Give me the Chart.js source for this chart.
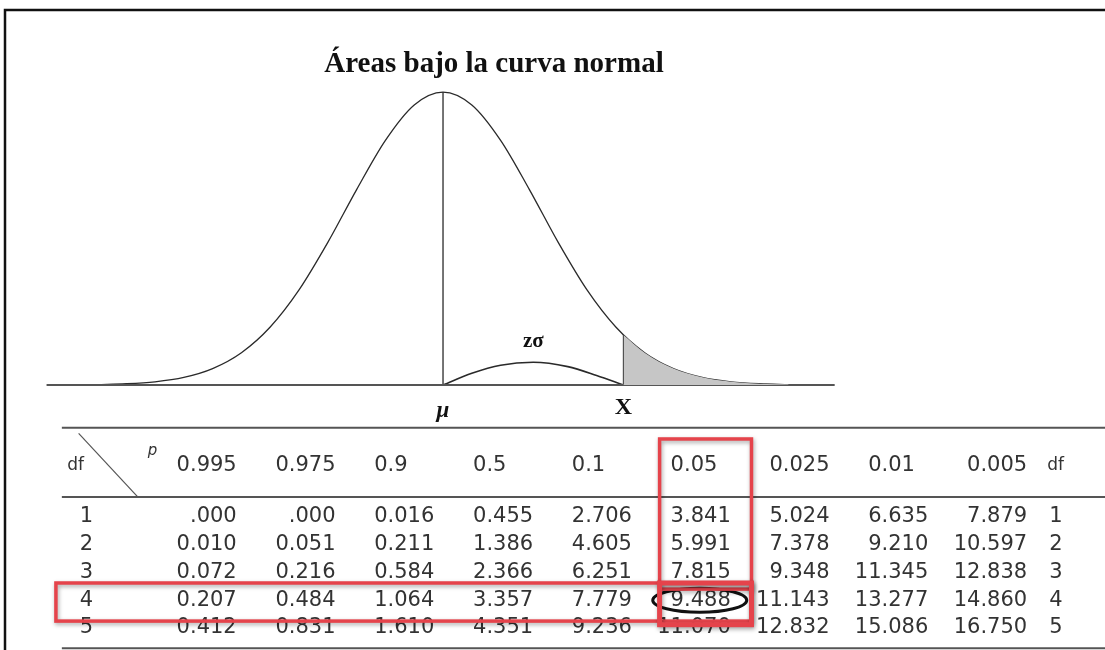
<!DOCTYPE html>
<html>
<head>
<meta charset="utf-8">
<script src="https://cdn.jsdelivr.net/npm/chart.js@4"></script>
<style>
  html, body { margin: 0; padding: 0; background: #fff; }
  #wrap { width: 1105px; height: 650px; position: relative; }
</style>
</head>
<body>
<div id="wrap"><canvas id="chart"></canvas></div>
<script>
// ---- data ----
const title = 'Áreas bajo la curva normal';

// normal curve (z units, density)
const curveZ = [-3.6,-3.3,-3.0,-2.7,-2.4,-2.1,-1.8,-1.5,-1.2,-0.9,-0.6,-0.3,0,0.3,0.6,0.9,1.2,1.5,1.8,2.1,2.4,2.7,3.0,3.3,3.6];
const curveY = [0.0006,0.0017,0.0044,0.0104,0.0224,0.0440,0.0790,0.1295,0.1942,0.2661,0.3332,0.3814,0.3989,0.3814,0.3332,0.2661,0.1942,0.1295,0.0790,0.0440,0.0224,0.0104,0.0044,0.0017,0.0006];

// shaded upper tail beyond X
const tailZ = [1.88,2.1,2.4,2.7,3.0,3.3,3.6];
const tailY = [0.068,0.0440,0.0224,0.0104,0.0044,0.0017,0.0006];

// small z-sigma arc between mu and X
const arcZ = [0,0.3,0.6,0.94,1.3,1.6,1.88];
const arcY = [0,0.016,0.027,0.031,0.025,0.013,0];

const muZ = 0, xZ = 1.88, peakY = 0.3989, xY = 0.068;
const baseZ = [-4.13, 4.08];

// chi-square table
const pLabels = ['0.995','0.975','0.9','0.5','0.1','0.05','0.025','0.01','0.005'];
const dfRows = [1,2,3,4,5];
const df1 = ['.000','.000','0.016','0.455','2.706','3.841','5.024','6.635','7.879'];
const df2 = ['0.010','0.051','0.211','1.386','4.605','5.991','7.378','9.210','10.597'];
const df3 = ['0.072','0.216','0.584','2.366','6.251','7.815','9.348','11.345','12.838'];
const df4 = ['0.207','0.484','1.064','3.357','7.779','9.488','11.143','13.277','14.860'];
const df5 = ['0.412','0.831','1.610','4.351','9.236','11.070','12.832','15.086','16.750'];
const tableRows = [df1, df2, df3, df4, df5];
const markCol = 6, markRow = 4;

const pts = (xs, ys) => xs.map((x, i) => ({x, y: ys[i]}));

const tablePlugin = {
  id: 'tablePlugin',
  afterDraw(chart) {
    const ctx = chart.ctx;
    const sx = chart.scales.x;
    const tc = chart.scales.tc, tr = chart.scales.tr;
    const W = chart.width;
    ctx.save();

    // frame
    ctx.strokeStyle = '#111';
    ctx.lineWidth = 2.5;
    ctx.beginPath();
    ctx.moveTo(5, 651); ctx.lineTo(5, 10); ctx.lineTo(W + 2, 10);
    ctx.stroke();

    // title
    ctx.fillStyle = '#111';
    ctx.font = 'bold 29px "Liberation Serif", serif';
    ctx.textAlign = 'center';
    ctx.textBaseline = 'alphabetic';
    ctx.fillText(title, 494, 72);

    // curve labels
    ctx.font = 'bold italic 23px "Liberation Serif", serif';
    ctx.fillText('\u03bc', sx.getPixelForValue(muZ), 417);
    ctx.font = 'bold 24px "Liberation Serif", serif';
    ctx.fillText('X', sx.getPixelForValue(xZ), 414);
    ctx.font = 'bold 21px "Liberation Serif", serif';
    ctx.fillText('z\u03c3', sx.getPixelForValue(0.94), 347);

    // table rules
    const tl = tc.getPixelForValue(-0.77);
    ctx.strokeStyle = '#555';
    ctx.lineWidth = 2;
    [-2.2, 0.29, 5.73].forEach(r => {
      const y = tr.getPixelForValue(r);
      ctx.beginPath(); ctx.moveTo(tl, y); ctx.lineTo(W, y); ctx.stroke();
    });
    ctx.lineWidth = 1.2;
    ctx.beginPath();
    ctx.moveTo(tc.getPixelForValue(-0.6), tr.getPixelForValue(-2.0));
    ctx.lineTo(tc.getPixelForValue(0.0), tr.getPixelForValue(0.29));
    ctx.stroke();

    // header
    const num = '21px "DejaVu Sans", sans-serif';
    ctx.fillStyle = '#333';
    ctx.font = num;
    ctx.textBaseline = 'middle';
    const hy = tr.getPixelForValue(-0.86);
    const w0 = ctx.measureText('0.000').width;
    ctx.textAlign = 'left';
    pLabels.forEach((p, i) => {
      ctx.fillText(p, tc.getPixelForValue(i + 1) - w0, hy);
    });
    ctx.font = '17px "DejaVu Sans", sans-serif';
    ctx.textAlign = 'center';
    ctx.fillText('df', tc.getPixelForValue(-0.63), hy);
    ctx.textAlign = 'left';
    ctx.fillText('df', tc.getPixelForValue(9) + 20, hy);
    ctx.font = 'italic 15px "DejaVu Sans", sans-serif';
    ctx.fillText('p', tc.getPixelForValue(0.1), tr.getPixelForValue(-1.35));

    // body
    ctx.font = num;
    tableRows.forEach((row, r) => {
      const y = tr.getPixelForValue(dfRows[r]);
      ctx.textAlign = 'right';
      row.forEach((v, c) => ctx.fillText(v, tc.getPixelForValue(c + 1), y));
      ctx.textAlign = 'center';
      ctx.fillText(String(dfRows[r]), tc.getPixelForValue(-0.52), y);
      ctx.textAlign = 'left';
      ctx.fillText(String(dfRows[r]), tc.getPixelForValue(9) + 22, y);
    });

    // ellipse around the chosen value
    const ex = tc.getPixelForValue(markCol) - 31, ey = tr.getPixelForValue(markRow);
    ctx.strokeStyle = '#111';
    ctx.lineWidth = 3;
    ctx.beginPath();
    ctx.ellipse(ex, ey, 47, 12, 0, 0, Math.PI * 2);
    ctx.stroke();

    // red highlight boxes
    ctx.shadowColor = 'rgba(0,0,0,0.35)';
    ctx.shadowBlur = 4;
    ctx.shadowOffsetX = 1;
    ctx.shadowOffsetY = 2;
    ctx.strokeStyle = '#e5434b';
    const box = (c0, c1, r0, r1, lw) => {
      const x0 = tc.getPixelForValue(c0), x1 = tc.getPixelForValue(c1);
      const y0 = tr.getPixelForValue(r0), y1 = tr.getPixelForValue(r1);
      ctx.lineWidth = lw;
      ctx.strokeRect(x0, y0, x1 - x0, y1 - y0);
    };
    box(markCol - 0.72, markCol + 0.21, -1.8, 3.6, 3.5);
    box(-0.83, markCol + 0.21, markRow - 0.62, markRow + 0.75, 3.5);
    box(markCol - 0.72, markCol + 0.21, markRow - 0.62, markRow + 0.88, 5);
    ctx.restore();
  }
};

new Chart(document.getElementById('chart'), {
  type: 'scatter',
  data: {
    datasets: [
      { data: pts(tailZ, tailY), showLine: true, fill: 'origin', backgroundColor: '#c6c6c6',
        borderWidth: 0, pointRadius: 0, cubicInterpolationMode: 'monotone' },
      { data: pts(baseZ, [0, 0]), showLine: true, borderColor: '#555', borderWidth: 2, pointRadius: 0 },
      { data: pts(curveZ, curveY), showLine: true, borderColor: '#2a2a2a', borderWidth: 1.3,
        pointRadius: 0, cubicInterpolationMode: 'monotone' },
      { data: pts(arcZ, arcY), showLine: true, borderColor: '#2a2a2a', borderWidth: 1.6,
        pointRadius: 0, cubicInterpolationMode: 'monotone' },
      { data: pts([muZ, muZ], [0, peakY]), showLine: true, borderColor: '#2a2a2a', borderWidth: 1.3, pointRadius: 0 },
      { data: pts([xZ, xZ], [0, xY]), showLine: true, borderColor: '#2a2a2a', borderWidth: 1.3, pointRadius: 0 }
    ]
  },
  options: {
    responsive: true,
    maintainAspectRatio: false,
    animation: false,
    layout: { padding: 0 },
    plugins: { legend: { display: false }, tooltip: { enabled: false }, title: { display: false } },
    scales: {
      x:  { type: 'linear', display: false, min: -4.615, max: 6.896 },
      y:  { type: 'linear', display: false, min: -0.3608, max: 0.5242 },
      tc: { type: 'linear', axis: 'x', position: 'bottom', display: false, min: -1.396, max: 9.788 },
      tr: { type: 'linear', axis: 'y', position: 'left', display: false, reverse: true, min: -17.59, max: 5.79 }
    }
  },
  plugins: [tablePlugin]
});
</script>
</body>
</html>
